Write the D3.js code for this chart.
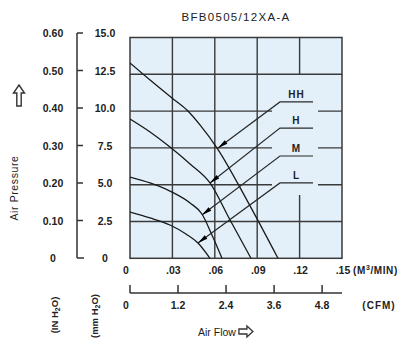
<!DOCTYPE html>
<html>
<head>
<meta charset="utf-8">
<script src="https://cdn.jsdelivr.net/npm/d3@7"></script>
<style>
  html, body { margin: 0; padding: 0; background: #ffffff; }
  svg { display: block; }
  text { font-family: "Liberation Sans", Arial, sans-serif; fill: #222; }
</style>
</head>
<body>
<svg id="chart" width="413" height="347"></svg>
<script>
// ---------------- DATA ----------------
const title = "BFB0505/12XA-A";
const flowTicks = [0, 0.03, 0.06, 0.09, 0.12, 0.15];
const flowTickLabels = ["0", ".03", ".06", ".09", ".12", ".15"];
const cfmTicks = [0, 1.2, 2.4, 3.6, 4.8];
const cfmTickLabels = ["0", "1.2", "2.4", "3.6", "4.8"];
const mmTicks = [0, 2.5, 5, 7.5, 10, 12.5, 15];
const mmTickLabels = ["0", "2.5", "5.0", "7.5", "10.0", "12.5", "15.0"];
const inTickLabels = ["0", "0.10", "0.20", "0.30", "0.40", "0.50", "0.60"];

const speeds = ["HH", "H", "M", "L"];
// fan curves: [flow m3/min, pressure mmH2O]
const curveHH = [[0, 13.27], [0.0142, 12.11], [0.0297, 10.89], [0.0403, 10.07], [0.0495, 9.06], [0.0616, 7.49], [0.0830, 3.9], [0.1047, 0]];
const curveH  = [[0, 9.46], [0.0142, 8.58], [0.0283, 7.56], [0.0425, 6.41], [0.0566, 5.12], [0.0708, 2.60], [0.0856, 0]];
const curveM  = [[0, 5.52], [0.0142, 5.12], [0.0297, 4.50], [0.0425, 3.76], [0.0509, 3.01], [0.0580, 1.58], [0.0651, 0]];
const curveL  = [[0, 3.14], [0.0142, 2.74], [0.0283, 2.26], [0.0396, 1.65], [0.0481, 1.04], [0.0566, 0]];
const curves = [curveHH, curveH, curveM, curveL];

// operating-point markers (arrow tips) and label anchor (underline start) in data units
const markerFlow = [0.0623, 0.0566, 0.0509, 0.0481];
const markerPressure = [7.49, 5.12, 2.94, 1.04];
const labelFlowStart = [0.1061, 0.1061, 0.1061, 0.1061];
const labelFlowEnd = [0.1295, 0.1295, 0.1295, 0.1295];
const labelPressure = [10.62, 8.85, 6.95, 5.12];

const CFM_PER_M3MIN = 1 / 0.0283168;

// ---------------- LAYOUT ----------------
const svg = d3.select("#chart");
const plot = { left: 130, right: 342, top: 37.5, bottom: 258.3 };

const x = d3.scaleLinear().domain([0, 0.15]).range([plot.left, plot.right]);
const y = d3.scaleLinear().domain([0, 15]).range([plot.bottom, plot.top]);
const yAxisScale = d3.scaleLinear().domain([0, 15]).range([258, 33]);
const xc = d3.scaleLinear().domain([0, 0.15 * CFM_PER_M3MIN]).range([plot.left, plot.right]);

const gridColor = "#3a3a3a";

// plot background
svg.append("rect")
  .attr("x", plot.left).attr("y", plot.top)
  .attr("width", plot.right - plot.left).attr("height", plot.bottom - plot.top)
  .attr("fill", "#e3f0f9");

// gridlines
svg.append("g").selectAll("line.v").data(flowTicks.slice(1, -1)).join("line")
  .attr("x1", d => x(d)).attr("x2", d => x(d))
  .attr("y1", plot.top).attr("y2", plot.bottom)
  .attr("stroke", gridColor).attr("stroke-width", 1.4);
svg.append("g").selectAll("line.h").data(mmTicks.slice(1, -1)).join("line")
  .attr("x1", plot.left).attr("x2", plot.right)
  .attr("y1", d => y(d)).attr("y2", d => y(d))
  .attr("stroke", gridColor).attr("stroke-width", 1.4);

// label mask over gridlines
svg.append("rect")
  .attr("x", 272).attr("y", 75).attr("width", 46).attr("height", 120)
  .attr("fill", "#e3f0f9");

// frame
svg.append("rect")
  .attr("x", plot.left).attr("y", plot.top)
  .attr("width", plot.right - plot.left).attr("height", plot.bottom - plot.top)
  .attr("fill", "none").attr("stroke", "#3a3a3a").attr("stroke-width", 1.5);

// fan curves
const line = d3.line().x(d => x(d[0])).y(d => y(d[1])).curve(d3.curveMonotoneX);
svg.append("clipPath").attr("id", "pclip").append("rect")
  .attr("x", plot.left).attr("y", plot.top)
  .attr("width", plot.right - plot.left).attr("height", plot.bottom - plot.top);
svg.append("g").attr("clip-path", "url(#pclip)")
  .selectAll("path").data(curves).join("path")
  .attr("d", line).attr("fill", "none")
  .attr("stroke", "#1a1a1a").attr("stroke-width", 1.3);

// leader lines, underlines, labels, arrowheads
speeds.forEach((s, i) => {
  const tx = x(markerFlow[i]), ty = y(markerPressure[i]);
  const lx = x(labelFlowStart[i]), ly = y(labelPressure[i]);
  const rx = x(labelFlowEnd[i]);
  svg.append("polyline")
    .attr("points", [[tx, ty], [lx, ly], [rx, ly]].map(p => p.join(",")).join(" "))
    .attr("fill", "none").attr("stroke", "#2a2a2a").attr("stroke-width", 1.2);
  const dx = lx - tx, dy = ly - ty, len = Math.hypot(dx, dy);
  const ux = dx / len, uy = dy / len, nx = -uy, ny = ux;
  const L = 10, W = 2.2;
  const bx = tx + ux * L, by = ty + uy * L;
  svg.append("polygon")
    .attr("points", [[tx, ty], [bx + nx * W, by + ny * W], [bx - nx * W, by - ny * W]].map(p => p.join(",")).join(" "))
    .attr("fill", "#000");
  svg.append("text")
    .attr("x", (lx + rx) / 2).attr("y", ly - 4)
    .attr("text-anchor", "middle").attr("font-size", 10).attr("font-weight", "bold")
    .attr("letter-spacing", 1)
    .text(s);
});

// title
svg.append("text").attr("x", 236).attr("y", 21).attr("text-anchor", "middle")
  .attr("font-size", 11.5).attr("letter-spacing", 1.3).text(title);

// left axis (single vertical line, ticks pointing right)
const axX = 77;
svg.append("line").attr("x1", axX).attr("x2", axX)
  .attr("y1", yAxisScale(15)).attr("y2", yAxisScale(0))
  .attr("stroke", "#333").attr("stroke-width", 1.5);
svg.append("g").selectAll("line").data(mmTicks).join("line")
  .attr("x1", axX).attr("x2", d => d === 0 ? axX + 7 : axX + 6)
  .attr("y1", d => yAxisScale(d)).attr("y2", d => yAxisScale(d))
  .attr("stroke", "#333").attr("stroke-width", 1.5);
svg.append("g").selectAll("text").data(mmTicks).join("text")
  .attr("x", 105).attr("y", d => yAxisScale(d) + 4)
  .attr("text-anchor", "middle").attr("font-size", 10.5).attr("font-weight", "bold")
  .text((d, i) => mmTickLabels[i]);
svg.append("g").selectAll("text").data(mmTicks).join("text")
  .attr("x", 53).attr("y", d => yAxisScale(d) + 4)
  .attr("text-anchor", "middle").attr("font-size", 10.5).attr("font-weight", "bold")
  .text((d, i) => inTickLabels[i]);

// axis titles (left)
svg.append("text").attr("transform", "translate(18,188) rotate(-90)")
  .attr("text-anchor", "middle").attr("font-size", 10.5).attr("letter-spacing", 0.6).text("Air Pressure");
svg.append("path")
  .attr("d", "M19,85 L24.5,93 L21.2,93 L21.2,106 L16.8,106 L16.8,93 L13.5,93 Z")
  .attr("fill", "none").attr("stroke", "#333").attr("stroke-width", 1.4);
svg.append("text").attr("transform", "translate(58,315) rotate(-90)")
  .attr("text-anchor", "middle").attr("font-size", 9.5).attr("font-weight", "bold")
  .html('(IN H<tspan font-size="7" dy="2">2</tspan><tspan dy="-2">O)</tspan>');
svg.append("text").attr("transform", "translate(98,316) rotate(-90)")
  .attr("text-anchor", "middle").attr("font-size", 9.5).attr("font-weight", "bold")
  .html('(mm H<tspan font-size="7" dy="2">2</tspan><tspan dy="-2">O)</tspan>');

// bottom flow labels (m3/min)
svg.append("g").selectAll("text").data(flowTicks).join("text")
  .attr("x", (d, i) => i === 0 ? x(d) - 4 : x(d) + 1).attr("y", 274)
  .attr("text-anchor", "middle").attr("font-size", 10.5).attr("font-weight", "bold")
  .text((d, i) => flowTickLabels[i]);
svg.append("text").attr("x", 353).attr("y", 274).attr("font-size", 10).attr("font-weight", "bold")
  .attr("letter-spacing", 0.6)
  .html('(M<tspan font-size="7" dy="-4">3</tspan><tspan dy="4">/MIN)</tspan>');

// CFM axis
const cfmY = 293;
svg.append("line").attr("x1", xc(0)).attr("x2", x(0.15))
  .attr("y1", cfmY).attr("y2", cfmY).attr("stroke", "#333").attr("stroke-width", 1.5);
svg.append("g").selectAll("line").data(cfmTicks).join("line")
  .attr("x1", d => xc(d)).attr("x2", d => xc(d))
  .attr("y1", cfmY).attr("y2", cfmY - 8)
  .attr("stroke", "#333").attr("stroke-width", 1.5);
svg.append("g").selectAll("text").data(cfmTicks).join("text")
  .attr("x", (d, i) => i === 0 ? xc(d) - 4 : xc(d)).attr("y", 309)
  .attr("text-anchor", "middle").attr("font-size", 10.5).attr("font-weight", "bold")
  .text((d, i) => cfmTickLabels[i]);
svg.append("text").attr("x", 379).attr("y", 309).attr("text-anchor", "middle")
  .attr("font-size", 10).attr("font-weight", "bold").attr("letter-spacing", 1).text("(CFM)");

// Air Flow title + arrow
const af = svg.append("text").attr("x", 198).attr("y", 336).attr("font-size", 10.5).text("Air Flow");
const ax0 = 198 + af.node().getComputedTextLength() + 3;
svg.append("path")
  .attr("d", `M${ax0 + 14},331.5 L${ax0 + 8},326 L${ax0 + 8},329 L${ax0},329 L${ax0},334 L${ax0 + 8},334 L${ax0 + 8},337 Z`)
  .attr("fill", "none").attr("stroke", "#333").attr("stroke-width", 1.3);
</script>
</body>
</html>
